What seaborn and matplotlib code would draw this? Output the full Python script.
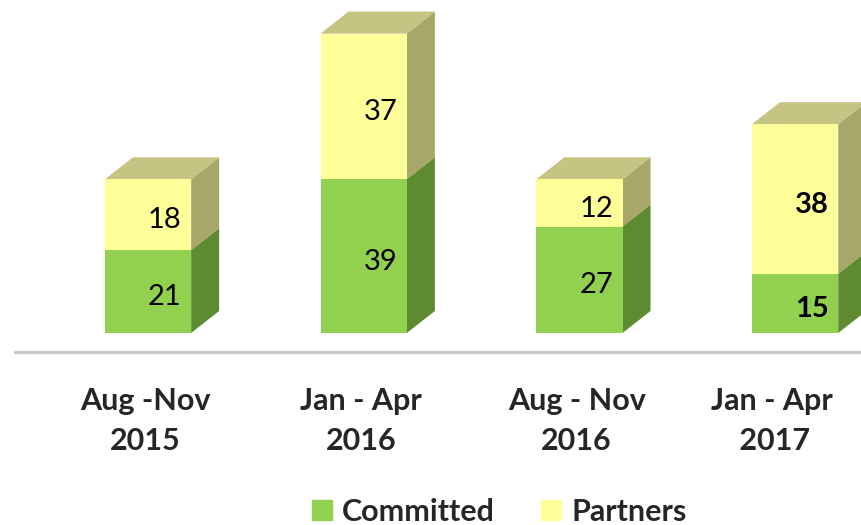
import pandas as pd
import seaborn as sns
import matplotlib.pyplot as plt
from matplotlib.patches import Polygon, Patch
from matplotlib.lines import Line2D
from matplotlib.transforms import blended_transform_factory

# data
periods = ["Aug -Nov\n2015", "Jan - Apr\n2016", "Aug - Nov\n2016", "Jan - Apr\n 2017"]
committed = [21, 39, 27, 15]
partners = [18, 37, 12, 38]
bold_labels = [False, False, False, True]

df = pd.DataFrame({"period": periods, "Committed": committed, "Partners": partners})
df["Total"] = df["Committed"] + df["Partners"]

front = {"Committed": "#92D050", "Partners": "#FFFF99"}
side = {"Committed": "#5E8B31", "Partners": "#A8A76A"}
top_col = "#C5C482"

sns.set_theme(style="white")
plt.rcParams["font.family"] = ["Lato", "DejaVu Sans"]

W, H = 861, 525
fig = plt.figure(figsize=(W / 100, H / 100), dpi=100)
# axes: bar floor at 333 px from top
ax = fig.add_axes([0, (H - 333) / H, 1, 333 / H])

sns.barplot(data=df, x="period", y="Total", color=front["Partners"], width=0.4,
            saturation=1, linewidth=0, ax=ax, zorder=3)
sns.barplot(data=df, x="period", y="Committed", color=front["Committed"], width=0.4,
            saturation=1, linewidth=0, ax=ax, zorder=3)

# pixel scale -> data scale
px_x, px_y = 215.7, 3.94
ax.set_xlim(-148 / px_x, (W - 148) / px_x)
ax.set_ylim(0, 333 / px_y)
ax.axis("off")

# 3D depth of the bars
dx, dy = 28 / px_x, 22 / px_y

tot_bars = ax.patches[:4]
com_bars = ax.patches[4:8]
for tb, cb in zip(tot_bars, com_bars):
    x0, x1 = tb.get_x(), tb.get_x() + tb.get_width()
    ytot = tb.get_height()
    ycom = cb.get_height()
    # right side faces
    ax.add_patch(Polygon([(x1, ycom), (x1 + dx, ycom + dy), (x1 + dx, ytot + dy), (x1, ytot)],
                         closed=True, color=side["Partners"], lw=0, zorder=2))
    ax.add_patch(Polygon([(x1, 0), (x1 + dx, dy), (x1 + dx, ycom + dy), (x1, ycom)],
                         closed=True, color=side["Committed"], lw=0, zorder=2))
    # top face
    ax.add_patch(Polygon([(x0, ytot), (x0 + dx, ytot + dy), (x1 + dx, ytot + dy), (x1, ytot)],
                         closed=True, color=top_col, lw=0, zorder=2))

# value labels
for i, (c, p, b) in enumerate(zip(committed, partners, bold_labels)):
    w = "bold" if b else "normal"
    for val, mid in [(c, c / 2), (p, c + p / 2)]:
        ax.annotate(str(val), (i, mid), xytext=(12, -4), textcoords="offset points",
                    ha="center", va="center", fontsize=21, fontweight=w, color="black",
                    zorder=5)

# category labels
trans = blended_transform_factory(ax.transData, ax.transAxes)
for i, lab in enumerate(periods):
    shift = -17 if i == len(periods) - 1 else -2
    ax.annotate(lab, (i, -88 / 333), xycoords=trans, xytext=(shift, 0),
                textcoords="offset points", ha="center", va="center",
                fontsize=22, fontweight="bold", linespacing=1.5, annotation_clip=False)

# floor line
fig.add_artist(Line2D([15 / W, 1], [(H - 352) / H] * 2, color="#C8C8C8", lw=2.4))

handles = [Patch(color=front["Committed"]), Patch(color=front["Partners"])]
fig.legend(handles, ["Committed", "Partners"], loc="center", bbox_to_anchor=(0.58, 0.025),
           ncol=2, frameon=False, prop={"weight": "bold", "size": 22},
           handlelength=0.65, handleheight=0.65, handletextpad=0.35, columnspacing=1.5)

fig.savefig("out.png", dpi=100)
